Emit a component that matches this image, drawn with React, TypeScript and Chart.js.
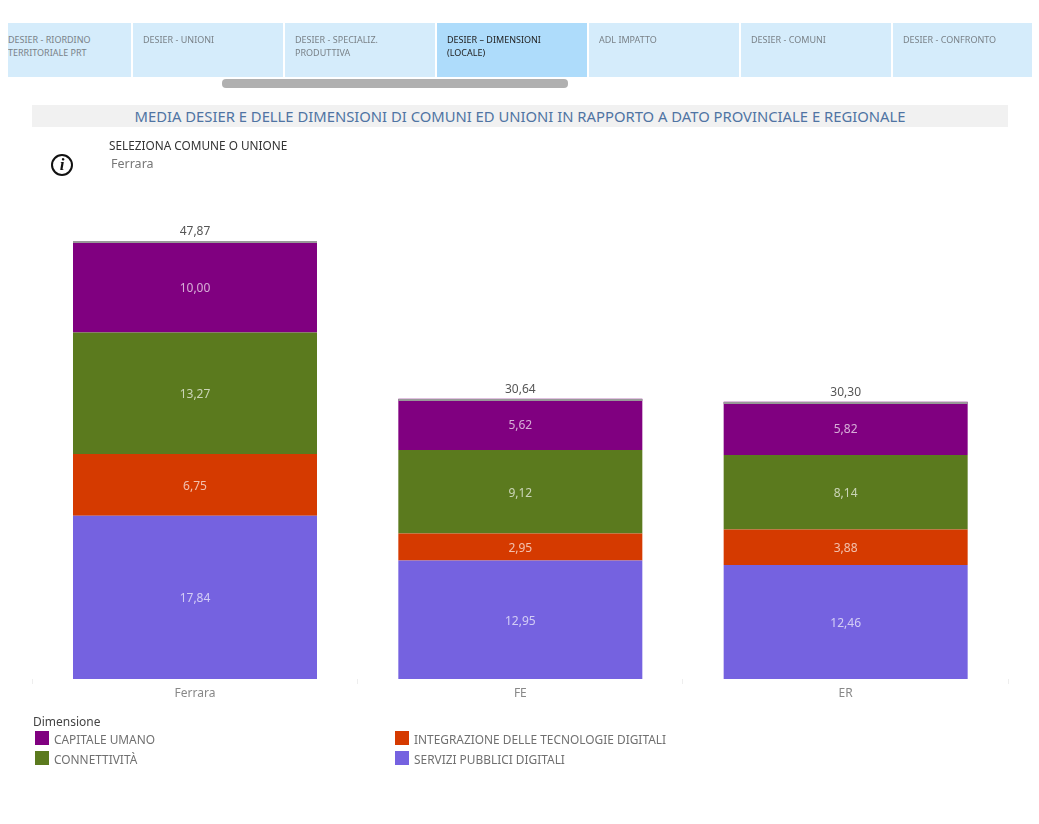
import React, { useEffect, useRef } from "react";
import { Chart, registerables } from "chart.js";

Chart.register(...registerables);

const categories = ["Ferrara", "FE", "ER"];
const serviziPubblici = [17.84, 12.95, 12.46];
const integrazione = [6.75, 2.95, 3.88];
const connettivita = [13.27, 9.12, 8.14];
const capitaleUmano = [10.0, 5.62, 5.82];
const totals = [47.87, 30.64, 30.3];

const tabs = [
  "DESIER - RIORDINO TERRITORIALE PRT",
  "DESIER - UNIONI",
  "DESIER - SPECIALIZ. PRODUTTIVA",
  "DESIER – DIMENSIONI (LOCALE)",
  "ADL IMPATTO",
  "DESIER - COMUNI",
  "DESIER - CONFRONTO",
];
const tabBoxes = [
  [8, 123, 0],
  [133, 150, 10],
  [285, 150, 10],
  [437, 150, 10],
  [589, 150, 10],
  [741, 150, 10],
  [893, 139, 10],
];
const legendNames = [
  "CAPITALE UMANO",
  "CONNETTIVITÀ",
  "INTEGRAZIONE DELLE TECNOLOGIE DIGITALI",
  "SERVIZI PUBBLICI DIGITALI",
];
const colors = ["#800080", "#5b7a1e", "#d53a00", "#7562e0"];
const FONT = "'Noto Sans', sans-serif";
const fmt = (v: number) => v.toFixed(2).replace(".", ",");

const labelPlugin = {
  id: "barLabels",
  afterDatasetsDraw(chart: any) {
    const { ctx, scales } = chart;
    ctx.save();
    ctx.textAlign = "center";
    ctx.textBaseline = "middle";
    ctx.font = `12px ${FONT}`;
    chart.data.datasets.forEach((ds: any, i: number) => {
      chart.getDatasetMeta(i).data.forEach((el: any, j: number) => {
        ctx.fillStyle = "rgba(255,255,255,0.68)";
        ctx.fillText(fmt(ds.data[j]), el.x, (el.y + el.base) / 2 + 1.5);
      });
    });
    const top = chart.getDatasetMeta(chart.data.datasets.length - 1).data;
    top.forEach((el: any, j: number) => {
      const y = scales.y.getPixelForValue(totals[j]);
      ctx.fillStyle = "#999999";
      ctx.fillRect(el.x - el.width / 2, Math.round(y), el.width, 2);
      ctx.fillStyle = "#555555";
      ctx.fillText(fmt(totals[j]), el.x, y - 9.5);
    });
    ctx.restore();
  },
};

export default function App() {
  const ref = useRef<HTMLCanvasElement>(null);
  useEffect(() => {
    const chart = new Chart(ref.current!, {
      type: "bar",
      data: {
        labels: categories,
        datasets: [
          { label: legendNames[3], data: serviziPubblici, backgroundColor: colors[3] },
          { label: legendNames[2], data: integrazione, backgroundColor: colors[2] },
          { label: legendNames[1], data: connettivita, backgroundColor: colors[1] },
          { label: legendNames[0], data: capitaleUmano, backgroundColor: colors[0] },
        ],
      },
      options: {
        animation: false,
        responsive: false,
        events: [],
        datasets: { bar: { barPercentage: 0.75, categoryPercentage: 1 } },
        layout: { padding: { left: 32.33, right: 30.67, top: 221.5, bottom: 115 } },
        plugins: { legend: { display: false }, tooltip: { enabled: false }, title: { display: false } },
        scales: {
          x: {
            stacked: true,
            afterFit: (s: any) => {
              s.height = 30;
            },
            border: { display: false },
            grid: { drawOnChartArea: false, drawTicks: true, tickLength: 5, color: "#eeeeee", offset: true },
            ticks: { color: "#888888", font: { family: FONT, size: 12 }, padding: 2, maxRotation: 0 },
          },
          y: { stacked: true, display: false, min: 0, max: 50 },
        },
      },
      plugins: [labelPlugin],
    } as any);
    return () => chart.destroy();
  }, []);

  const abs = (l: number, t: number, w: number, h: number): React.CSSProperties => ({
    position: "absolute",
    left: l,
    top: t,
    width: w,
    height: h,
  });

  return (
    <div style={{ ...abs(0, 0, 1039, 824), overflow: "hidden", fontFamily: FONT, background: "#fff" }}>
      <canvas ref={ref} width={1039} height={824} style={{ position: "absolute", left: 0, top: 0, display: "block" }} />
      {tabs.map((t, i) => (
        <div
          key={t}
          style={{
            ...abs(tabBoxes[i][0], 23, tabBoxes[i][1], 54),
            background: i === 3 ? "#aedcfb" : "#d5ecfb",
            color: i === 3 ? "#222" : "#7a8288",
            fontSize: 9,
            lineHeight: "13px",
            padding: `10px 8px 0 ${tabBoxes[i][2]}px`,
            boxSizing: "border-box",
          }}
        >
          {t}
        </div>
      ))}
      <div style={{ ...abs(222, 79, 346, 9), background: "#b0b0b0", borderRadius: 4 }} />
      <div
        style={{
          ...abs(32, 105, 976, 22),
          background: "#f1f1f1",
          color: "#4f74a3",
          fontSize: 14.8,
          lineHeight: "23px",
          textAlign: "center",
          whiteSpace: "nowrap",
        }}
      >
        MEDIA DESIER E DELLE DIMENSIONI DI COMUNI ED UNIONI IN RAPPORTO A DATO PROVINCIALE E REGIONALE
      </div>
      <div style={{ position: "absolute", left: 109, top: 137, fontSize: 11.8, lineHeight: "17px", color: "#333", whiteSpace: "nowrap" }}>
        SELEZIONA COMUNE O UNIONE
      </div>
      <div style={{ position: "absolute", left: 111, top: 155, fontSize: 12.5, lineHeight: "17px", color: "#777" }}>Ferrara</div>
      <div
        style={{
          ...abs(51, 154, 22, 22),
          boxSizing: "border-box",
          border: "2px solid #111",
          borderRadius: "50%",
          textAlign: "center",
          fontFamily: "'Liberation Serif', serif",
          fontStyle: "italic",
          fontWeight: 700,
          fontSize: 17,
          lineHeight: "18px",
          color: "#111",
        }}
      >
        i
      </div>
      <div style={{ position: "absolute", left: 33, top: 713, fontSize: 12, lineHeight: "17px", color: "#444" }}>Dimensione</div>
      {legendNames.map((n, i) => {
        const x = i < 2 ? 35 : 395;
        const y = i % 2 === 0 ? 731 : 751;
        return (
          <React.Fragment key={n}>
            <div style={{ ...abs(x, y, 14, 14), background: colors[i] }} />
            <div style={{ position: "absolute", left: x + 19, top: y, fontSize: 11.9, lineHeight: "16px", color: "#707070", whiteSpace: "nowrap" }}>{n}</div>
          </React.Fragment>
        );
      })}
    </div>
  );
}
